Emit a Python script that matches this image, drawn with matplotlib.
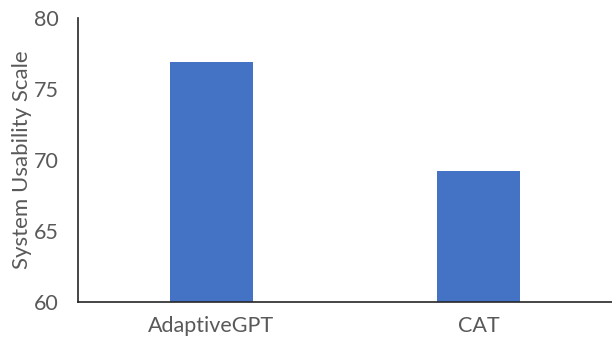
import matplotlib
matplotlib.use("Agg")
import matplotlib.pyplot as plt

categories = ["AdaptiveGPT", "CAT"]
sus_scores = [76.9, 69.25]
y_ticks = [60, 65, 70, 75, 80]

plt.rcParams["font.family"] = ["Lato", "DejaVu Sans"]

fig = plt.figure(figsize=(6.12, 3.4), dpi=100)
ax = fig.add_axes([78 / 612, 1 - 302 / 340, (612 - 78) / 612, (302 - 18) / 340])

x = range(len(categories))
ax.bar(x, sus_scores, width=0.31, color="#4472C4", zorder=2)

ax.set_xlim(-0.5, 1.5)
ax.set_ylim(60, 80)
ax.set_yticks(y_ticks)
ax.set_xticks(list(x))
ax.set_xticklabels(categories)

for side in ("top", "right"):
    ax.spines[side].set_visible(False)
for side in ("left", "bottom"):
    ax.spines[side].set_color("#262626")
    ax.spines[side].set_linewidth(1.2)

ax.tick_params(axis="both", length=0, labelsize=15.5, colors="#595959")
ax.tick_params(axis="y", pad=14)
ax.tick_params(axis="x", pad=10)
ax.set_ylabel("System Usability Scale", fontsize=16, color="#595959", labelpad=1)

fig.savefig("out.png", dpi=100)
